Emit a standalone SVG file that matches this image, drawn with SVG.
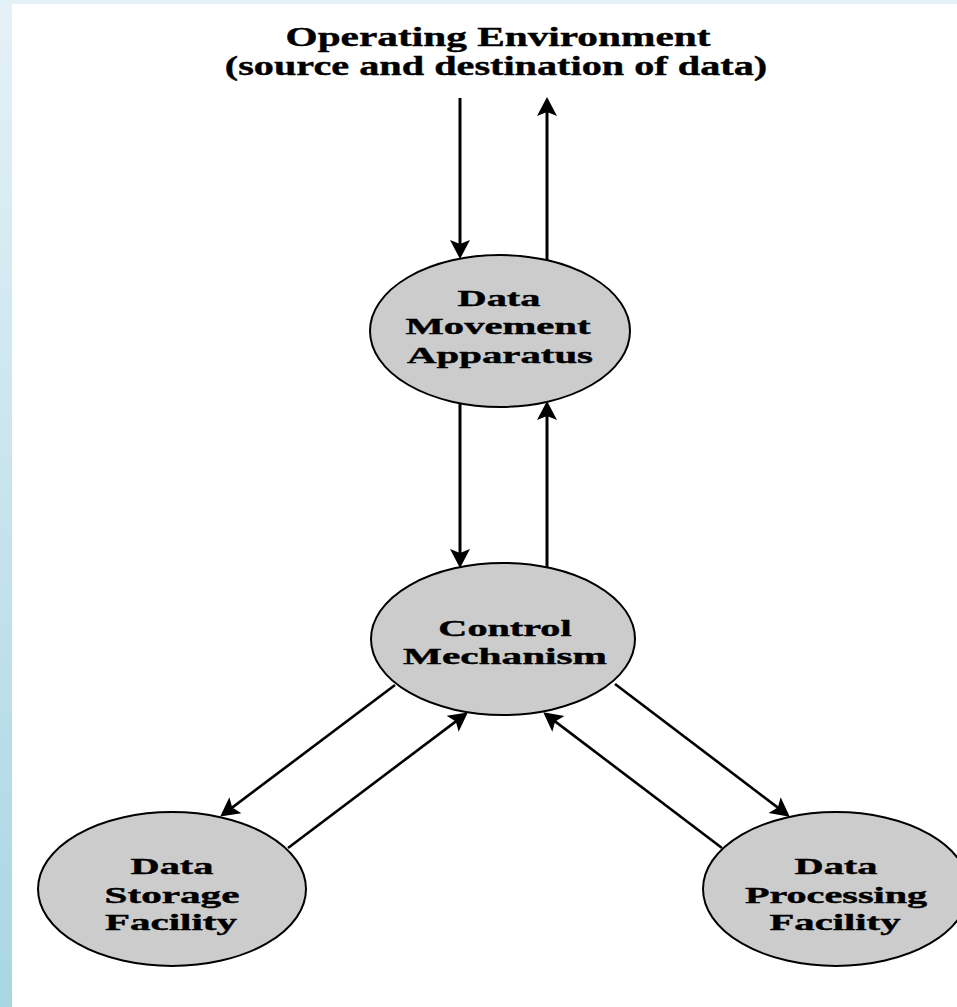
<svg xmlns="http://www.w3.org/2000/svg" width="957" height="1007" viewBox="0 0 957 1007">
  <defs>
    <linearGradient id="bg" x1="0" y1="0" x2="0" y2="1">
      <stop offset="0" stop-color="#e5f1f7"/>
      <stop offset="1" stop-color="#a9d6e3"/>
    </linearGradient>
    <marker id="ah" markerUnits="userSpaceOnUse" markerWidth="30" markerHeight="24" viewBox="-20 -12 30 24" refX="0" refY="0" orient="auto" overflow="visible">
      <path d="M7,0 L-12,-10 L-8,0 L-12,10 Z" fill="#000"/>
    </marker>
    <style>
      .node ellipse { fill: #cccccc; stroke: #000; stroke-width: 2; }
      .lbl { font-family: "Liberation Serif", "Times New Roman", serif; font-weight: bold; font-size: 23px; fill: #000; stroke: #000; stroke-width: 0.4; text-anchor: middle; }
      .title { font-family: "Liberation Serif", "Times New Roman", serif; font-weight: bold; font-size: 28px; fill: #000; stroke: #000; stroke-width: 0.4; text-anchor: middle; }
      .v { stroke: #000; stroke-width: 3; fill: none; marker-end: url(#ah); }
      .d { stroke: #000; stroke-width: 2.6; fill: none; marker-end: url(#ah); }
    </style>
  </defs>

  <rect x="0" y="0" width="957" height="1007" fill="url(#bg)"/>
  <rect x="0" y="0" width="957" height="4" fill="#e3f0f6"/>
  <rect x="12" y="4" width="945" height="1003" fill="#ffffff"/>

  <g id="title">
    <text class="title" transform="translate(498,46) scale(1.476,1)">Operating Environment</text>
    <text class="title" transform="translate(496,75) scale(1.437,1)">(source and destination of data)</text>
  </g>

  <g id="connectors">
    <line class="v" x1="460" y1="98" x2="460" y2="252"/>
    <line class="v" x1="547" y1="260" x2="547" y2="104"/>
    <line class="v" x1="460" y1="404" x2="460" y2="561"/>
    <line class="v" x1="547" y1="567" x2="547" y2="408"/>
    <line class="d" x1="395" y1="685" x2="225.8" y2="812.4"/>
    <line class="d" x1="288" y1="848" x2="462.2" y2="716.6"/>
    <line class="d" x1="615" y1="684" x2="784.2" y2="812.4"/>
    <line class="d" x1="722" y1="848" x2="548.8" y2="716.6"/>
  </g>

  <g id="data-movement" class="node">
    <ellipse cx="500" cy="331" rx="130" ry="76"/>
    <text class="lbl" transform="translate(499,306) scale(1.756,1)">Data</text>
    <text class="lbl" transform="translate(498,334) scale(1.766,1)">Movement</text>
    <text class="lbl" transform="translate(500,363) scale(1.775,1)">Apparatus</text>
  </g>

  <g id="control" class="node">
    <ellipse cx="503" cy="639" rx="132" ry="76"/>
    <text class="lbl" transform="translate(505,636) scale(1.748,1)">Control</text>
    <text class="lbl" transform="translate(505,664) scale(1.794,1)">Mechanism</text>
  </g>

  <g id="data-storage" class="node">
    <ellipse cx="172" cy="889" rx="134" ry="77"/>
    <text class="lbl" transform="translate(172,874) scale(1.756,1)">Data</text>
    <text class="lbl" transform="translate(172,903) scale(1.791,1)">Storage</text>
    <text class="lbl" transform="translate(171,930) scale(1.781,1)">Facility</text>
  </g>

  <g id="data-processing" class="node">
    <ellipse cx="836" cy="889" rx="133" ry="77"/>
    <text class="lbl" transform="translate(836,874) scale(1.756,1)">Data</text>
    <text class="lbl" transform="translate(836,903) scale(1.747,1)">Processing</text>
    <text class="lbl" transform="translate(835,930) scale(1.768,1)">Facility</text>
  </g>
</svg>
